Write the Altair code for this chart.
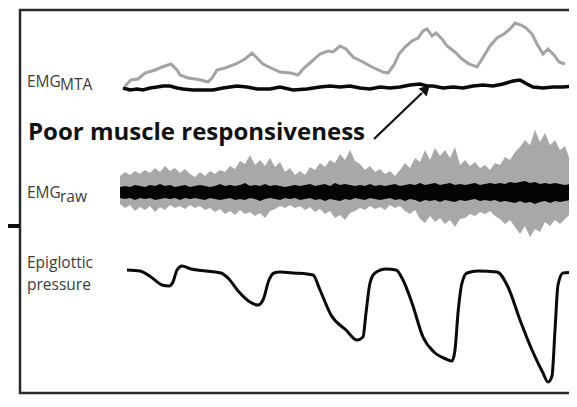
import altair as alt
import pandas as pd

# ---------------- data ----------------
# EMG_MTA, grey (normal) trace
mta_grey_x = [125, 131, 138, 145, 155, 162, 171, 177, 180, 188, 195, 201, 208, 212, 217, 225, 236, 245, 252, 258,
              263, 271, 280, 291, 298, 304, 311, 320, 328, 333, 340, 346, 353, 363, 372, 383, 388, 394, 399, 405,
              412, 418, 423, 427, 432, 436, 442, 447, 455, 462, 469, 477, 482, 490, 497, 504, 510, 515, 521, 526,
              532, 537, 543, 548, 554, 559, 565]
mta_grey_y = [86, 80, 79, 73, 70, 67, 64, 70, 75, 78, 79, 80, 82, 78, 70, 68, 64, 59, 53, 59,
              64, 68, 72, 73, 75, 68, 62, 54, 51, 52, 46, 49, 57, 62, 67, 72, 73, 65, 54, 47,
              41, 38, 31, 29, 36, 33, 39, 46, 52, 59, 64, 67, 59, 46, 38, 34, 29, 23, 25, 28,
              34, 44, 54, 49, 55, 62, 64]

# EMG_MTA, black (poor responsiveness) trace
mta_black_x = [123, 130, 137, 143, 150, 157, 163, 170, 177, 183, 193, 203, 213, 223, 237, 247, 257, 270, 280, 293,
               307, 320, 330, 340, 350, 360, 370, 380, 390, 400, 410, 420, 427, 433, 443, 453, 463, 473, 483, 493,
               503, 513, 520, 527, 533, 543, 553, 563, 577]
mta_black_y = [88, 90, 89, 90, 88, 87, 86, 86, 88, 89, 90, 90, 90, 88, 86, 87, 89, 89, 87, 90,
               89, 87, 86, 87, 86, 88, 89, 87, 88, 87, 85, 84, 86, 86, 88, 87, 88, 86, 85, 86,
               84, 81, 80, 84, 87, 88, 87, 87, 86]

# EMG_raw envelopes, sampled every 5 px of time
raw_x = list(range(120, 580, 5))
raw_grey_top = [176, 172, 175, 171, 174, 170, 173, 168, 172, 166, 171, 168, 173, 169, 174, 177, 172, 176, 171, 174,
                170, 172, 166, 169, 161, 164, 155, 165, 160, 166, 158, 167, 162, 172, 168, 175, 171, 175, 167, 170,
                163, 167, 160, 163, 154, 160, 150, 161, 164, 170, 166, 172, 169, 174, 171, 176, 170, 163, 168, 158,
                162, 150, 160, 148, 156, 150, 158, 147, 165, 160, 166, 162, 168, 165, 170, 163, 165, 157, 160, 152,
                147, 140, 145, 130, 142, 133, 145, 140, 150, 146, 160, 168]
raw_grey_bot = [204, 208, 205, 211, 207, 210, 206, 212, 207, 210, 205, 208, 206, 209, 205, 208, 206, 210, 208, 212,
                209, 214, 211, 215, 210, 214, 212, 216, 213, 218, 211, 209, 206, 208, 205, 208, 206, 210, 207, 212,
                209, 214, 211, 218, 215, 220, 213, 211, 208, 210, 206, 209, 207, 210, 205, 208, 206, 211, 214, 210,
                219, 223, 216, 222, 218, 224, 220, 227, 219, 218, 214, 216, 212, 214, 211, 216, 219, 224, 220, 227,
                234, 226, 237, 229, 232, 222, 226, 220, 224, 219, 214, 211]
raw_black_top = [187, 186, 187, 185, 186, 187, 185, 186, 184, 186, 185, 187, 186, 185, 187, 186, 185, 186, 187, 186,
                 184, 186, 185, 186, 185, 183, 186, 185, 186, 184, 186, 185, 186, 187, 186, 185, 186, 185, 184, 186,
                 185, 184, 186, 183, 185, 184, 185, 186, 185, 186, 184, 186, 185, 186, 185, 184, 186, 185, 184, 185,
                 183, 185, 184, 183, 185, 184, 183, 185, 184, 185, 184, 183, 185, 184, 183, 184, 183, 184, 182, 183,
                 182, 181, 183, 182, 184, 183, 184, 183, 184, 185, 184, 185]
raw_black_bot = [198, 199, 198, 200, 198, 199, 198, 200, 199, 198, 199, 198, 200, 198, 199, 198, 199, 200, 198, 199,
                 200, 199, 198, 200, 199, 200, 198, 199, 201, 199, 198, 199, 200, 198, 199, 198, 200, 199, 198, 200,
                 199, 201, 199, 200, 201, 199, 200, 198, 199, 200, 198, 199, 200, 199, 198, 200, 199, 201, 199, 200,
                 202, 200, 201, 200, 202, 200, 201, 202, 200, 201, 200, 199, 201, 200, 201, 200, 202, 201, 202, 203,
                 201, 203, 202, 204, 202, 201, 203, 201, 202, 201, 200, 201]

# Epiglottic pressure
epi_x = [127, 140, 151, 162, 169, 173, 177, 182, 191, 206, 221, 228, 239, 250, 258, 263, 269, 274, 280, 294,
         313, 320, 331, 346, 357, 363, 366, 370, 375, 386, 396, 403, 412, 423, 434, 446, 452, 455, 458, 462,
         467, 478, 497, 508, 520, 532, 543, 548, 552, 555, 558, 563, 577]
epi_y = [270, 271, 277, 285, 286, 282, 270, 266, 269, 271, 273, 278, 292, 302, 305, 300, 280, 273, 272, 273,
         275, 290, 315, 330, 340, 337, 313, 283, 273, 269, 270, 280, 303, 337, 352, 359, 361, 350, 313, 283,
         273, 271, 272, 287, 320, 350, 373, 382, 376, 330, 285, 273, 272]

labels = ["EMG", "MTA", "Poor muscle responsiveness", "EMG", "raw", "Epiglottic", "pressure"]

# ---------------- chart ----------------
W, H = 561, 387
xs = alt.Scale(domain=[8, 8 + W], nice=False, zero=False)
ys = alt.Scale(domain=[8, 8 + H], nice=False, zero=False, reverse=True)


def X(f):
    return alt.X(f, type="quantitative", scale=xs, axis=None)


def Y(f):
    return alt.Y(f, type="quantitative", scale=ys, axis=None)


def XD(v):
    return alt.XDatum(v, type="quantitative", scale=xs, axis=None)


def YD(v):
    return alt.YDatum(v, type="quantitative", scale=ys, axis=None)


def rule(x1, y1, x2, y2, w=2.5, c="#2a2a2a"):
    return alt.Chart(pd.DataFrame({"a": [0]})).mark_rule(strokeWidth=w, color=c).encode(
        x=XD(x1), y=YD(y1), x2=alt.X2Datum(x2), y2=alt.Y2Datum(y2))


def text(s, x, y, size, weight="normal", color="#3c3c3c"):
    return alt.Chart(pd.DataFrame({"t": [s]})).mark_text(
        align="left", baseline="alphabetic", font="Open Sans", fontSize=size,
        fontWeight=weight, color=color).encode(x=XD(x), y=YD(y), text="t:N")


frame = [
    rule(19, 10, 575, 10, 2.5),
    rule(20, 9, 20, 394, 2.5),
    rule(19, 393, 575, 393, 2.5),
    rule(6, 226, 20, 226, 4, "#111"),
]

raw_df = pd.DataFrame({"x": raw_x, "gt": raw_grey_top, "gb": raw_grey_bot,
                       "bt": raw_black_top, "bb": raw_black_bot})
raw_grey = alt.Chart(raw_df).mark_area(color="#a8a8a8", interpolate="linear").encode(
    x=X("x"), y=Y("gt"), y2="gb")
raw_black = alt.Chart(raw_df).mark_area(color="#050505", interpolate="linear").encode(
    x=X("x"), y=Y("bt"), y2="bb")

mta_g = alt.Chart(pd.DataFrame({"x": mta_grey_x, "y": mta_grey_y})).mark_line(
    color="#a3a3a3", strokeWidth=3, interpolate="linear").encode(x=X("x"), y=Y("y"))
mta_b = alt.Chart(pd.DataFrame({"x": mta_black_x, "y": mta_black_y})).mark_line(
    color="#0a0a0a", strokeWidth=3.5, interpolate="linear").encode(x=X("x"), y=Y("y"))
epi = alt.Chart(pd.DataFrame({"x": epi_x, "y": epi_y})).mark_line(
    color="#0a0a0a", strokeWidth=3, interpolate="monotone").encode(x=X("x"), y=Y("y"))

texts = [
    text(labels[0], 27, 87, 15.5),
    text(labels[1], 60, 90, 15.5),
    text(labels[2], 28, 140, 24, "bold", "#111"),
    text(labels[3], 27, 198, 15.5),
    text(labels[4], 60, 202, 15.5),
    text(labels[5], 27, 268, 15.5),
    text(labels[6], 27, 290, 15.5),
]

arrow = rule(374, 139, 422, 93, 2.2, "#111")
head = alt.Chart(pd.DataFrame({"a": [0]})).mark_point(
    shape="triangle", filled=True, size=130, angle=46, color="#111", opacity=1).encode(
    x=XD(425), y=YD(90))

chart = alt.layer(*frame, raw_grey, raw_black, mta_g, mta_b, epi, *texts, arrow, head).properties(
    width=W, height=H, padding=0, background="white",
    autosize=alt.AutoSizeParams(type="none")
).configure_view(stroke=None)

chart.save("out.html", embed_options={"renderer": "svg", "actions": False})
